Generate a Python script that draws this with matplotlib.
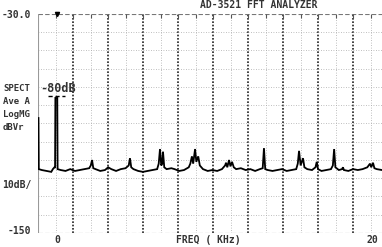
import matplotlib
matplotlib.use('Agg')
import matplotlib.pyplot as plt

# trace (kHz, dBV)
freq_khz = [-1.11, -1.09, -0.9, -0.6, -0.3, -0.2, -0.1, -0.06, -0.04, 0.08, 0.1,
            0.3, 0.6, 0.9, 1.2, 1.5, 1.8, 2.1, 2.2, 2.28, 2.36, 2.5, 2.8, 3.1, 3.3,
            3.5, 3.8, 4.1, 4.4, 4.6, 4.68, 4.76, 4.9, 5.2, 5.5, 5.8, 6.1, 6.4, 6.5,
            6.58, 6.66, 6.72, 6.77, 6.85, 7.0, 7.3, 7.5, 7.8, 8.1, 8.4, 8.5, 8.6,
            8.68, 8.8, 8.88, 9.0, 9.1, 9.3, 9.6, 9.9, 10.2, 10.5, 10.7, 10.76,
            10.84, 10.95, 11.04, 11.14, 11.25, 11.4, 11.7, 12.0, 12.3, 12.6, 12.9,
            13.08, 13.16, 13.24, 13.4, 13.7, 14.0, 14.3, 14.6, 14.9, 15.2, 15.3,
            15.38, 15.48, 15.63, 15.72, 15.9, 16.2, 16.42, 16.5, 16.58, 16.8, 17.1,
            17.4, 17.52, 17.6, 17.68, 17.9, 18.1, 18.16, 18.22, 18.5, 18.8, 19.1,
            19.4, 19.7, 19.87, 19.95, 20.06, 20.15, 20.3, 20.63]
level_db = [-87, -115, -115.5, -116, -116.5, -115, -114, -114, -76, -76, -115,
            -115.5, -116, -115, -116, -115.5, -115, -114.5, -113, -110, -114.5, -115, -116, -115.5, -114,
            -115, -116, -115, -114.5, -113, -109, -114, -115, -116, -116.5, -116, -115.5, -115, -112,
            -104, -113, -112, -105.5, -114, -115, -114.5, -115, -116, -115.5, -114, -112, -108,
            -112, -104, -111, -108, -113, -115, -116, -115.5, -116, -115, -113, -111.5,
            -114, -110, -113.5, -111, -114, -115, -114.5, -115.5, -115, -116, -115,
            -114.5, -103.5, -115, -115.5, -116, -115.5, -115, -116, -115.5, -115, -112,
            -105, -113, -109, -114, -115, -115.5, -114, -111, -115, -116, -115.5,
            -115, -113, -104, -114, -115.5, -115, -114, -115.5, -116, -115, -115.5,
            -115, -114, -112, -114, -111.5, -114.5, -115, -115.5]

side_labels = ['SPECT', 'Ave A', 'LogMG', 'dBVr']

W, H = 382, 247
fig = plt.figure(figsize=(W / 100, H / 100), dpi=100)
fig.patch.set_facecolor('white')
ax = fig.add_axes([38 / W, 14 / H, 1 - 38 / W, (233 - 14) / H])

x0, x1 = -1.14, 20.63
ax.set_xlim(x0, x1)
ax.set_ylim(-150, -30)

# analyzer grid: 17.5 px divisions, every other one darker
div = 17.5 / 15.8
for k in range(1, 20):
    xv = x0 + k * div
    if k % 2 == 0:
        ax.axvline(xv, color='#222222', lw=1.2, ls=(0, (1, 1)), zorder=1)
    else:
        ax.axvline(xv, color='#aaaaaa', lw=0.6, ls=(0, (1, 2)), zorder=1)
for yv in range(-140, -30, 10):
    ax.axhline(yv, color='#aaaaaa', lw=0.6, ls=(0, (1, 2)), zorder=1)
ax.axhline(-30, color='#777777', lw=0.8, ls=(0, (4, 2)), zorder=1)
ax.axhline(-150, color='#777777', lw=0.8, ls=(0, (4, 2)), zorder=1)

for s in ax.spines.values():
    s.set_visible(False)
ax.axvline(x0, color='#999999', lw=0.8, zorder=1)
ax.set_xticks([x0 + k * div for k in range(1, 20)])
ax.set_yticks([])
ax.tick_params(axis='x', top=True, bottom=False, direction='in', length=3,
               labeltop=False, labelbottom=False, color='#555555')

ax.plot(freq_khz, level_db, color='black', lw=1.3, zorder=3,
        solid_joinstyle='miter')

# marker
ax.plot([-0.5, 0.6], [-75, -75], color='black', lw=1.0, ls=(0, (3, 2)), zorder=3)
ax.plot([0.06], [-30], marker='v', color='black', ms=3, zorder=4, clip_on=False)

font = dict(family='DejaVu Sans Mono', weight='bold', color='#333333')
fig.text(200 / W, 1 - 5 / H, 'AD-3521 FFT ANALYZER', fontsize=7, va='center', ha='left', **font)
fig.text(31 / W, 1 - 15 / H, '-30.0', fontsize=7, va='center', ha='right', **font)
for i, lab in enumerate(side_labels):
    fig.text(3 / W, 1 - (88 + 13 * i) / H, lab, fontsize=6.5, va='center', ha='left', **font)
fig.text(2 / W, 1 - 185 / H, '10dB/', fontsize=7, va='center', ha='left', **font)
fig.text(31 / W, 1 - 231 / H, '-150', fontsize=7, va='center', ha='right', **font)
fig.text(58 / W, 1 - 88 / H, '-80dB', fontsize=8.5, va='center', ha='center', **font)
fig.text(57 / W, 1 - 240 / H, '0', fontsize=7, va='center', ha='center', **font)
fig.text(208 / W, 1 - 240 / H, 'FREQ ( KHz)', fontsize=7, va='center', ha='center', **font)
fig.text(372 / W, 1 - 240 / H, '20', fontsize=7, va='center', ha='center', **font)

fig.savefig('out.png', dpi=100)
